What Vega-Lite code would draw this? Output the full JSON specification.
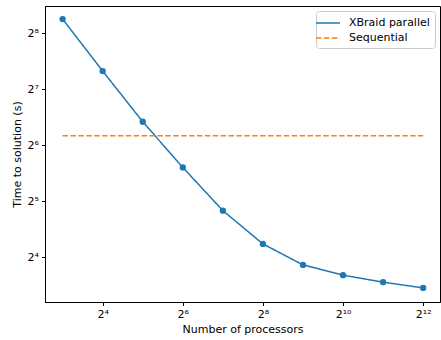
{
  "$schema": "https://vega.github.io/schema/vega-lite/v6.json",
  "width": 395,
  "height": 296,
  "autosize": {"type": "none"},
  "padding": {"left": 45, "top": 6, "right": 1, "bottom": 38},
  "background": "white",
  "config": {
    "font": "DejaVu Sans",
    "view": {"stroke": "black", "strokeWidth": 1},
    "axis": {
      "grid": false,
      "domainColor": "black",
      "tickColor": "black",
      "tickSize": 3.5,
      "labelPadding": 3,
      "labelFontSize": 11,
      "labelColor": "black",
      "titleFontSize": 11,
      "titleFontWeight": "normal",
      "titleColor": "black"
    },
    "legend": {
      "labelFontSize": 11,
      "labelColor": "black"
    }
  },
  "data": {
    "values": [
      {"p": 8, "t": 305.6, "series": "XBraid parallel"},
      {"p": 16, "t": 160.6, "series": "XBraid parallel"},
      {"p": 32, "t": 85.7, "series": "XBraid parallel"},
      {"p": 64, "t": 48.7, "series": "XBraid parallel"},
      {"p": 128, "t": 28.5, "series": "XBraid parallel"},
      {"p": 256, "t": 18.87, "series": "XBraid parallel"},
      {"p": 512, "t": 14.55, "series": "XBraid parallel"},
      {"p": 1024, "t": 12.81, "series": "XBraid parallel"},
      {"p": 2048, "t": 11.75, "series": "XBraid parallel"},
      {"p": 4096, "t": 10.94, "series": "XBraid parallel"},
      {"p": 8, "t": 72.1, "series": "Sequential"},
      {"p": 4096, "t": 72.1, "series": "Sequential"}
    ]
  },
  "encoding": {
    "x": {
      "field": "p",
      "type": "quantitative",
      "title": "Number of processors",
      "scale": {"type": "log", "base": 2, "domain": [5.9, 5480], "nice": false, "zero": false},
      "axis": {
        "values": [16, 64, 256, 1024, 4096],
        "labelExpr": "'2' + (round(log(datum.value)/LN2) < 10 ? ['⁰','¹','²','³','⁴','⁵','⁶','⁷','⁸','⁹'][round(log(datum.value)/LN2)] : ['⁰','¹','²','³','⁴','⁵','⁶','⁷','⁸','⁹'][floor(round(log(datum.value)/LN2)/10)] + ['⁰','¹','²','³','⁴','⁵','⁶','⁷','⁸','⁹'][round(log(datum.value)/LN2) % 10])",
        "titlePadding": 4
      }
    },
    "y": {
      "field": "t",
      "type": "quantitative",
      "title": "Time to solution (s)",
      "scale": {"type": "log", "base": 2, "domain": [9.19, 359.5], "nice": false, "zero": false},
      "axis": {
        "values": [16, 32, 64, 128, 256],
        "labelExpr": "'2' + ['⁰','¹','²','³','⁴','⁵','⁶','⁷','⁸','⁹'][round(log(datum.value)/LN2)]",
        "titlePadding": 5
      }
    }
  },
  "layer": [
    {
      "mark": {"type": "line", "strokeWidth": 1.5},
      "encoding": {
        "color": {
          "field": "series",
          "type": "nominal",
          "scale": {"domain": ["XBraid parallel", "Sequential"], "range": ["#1f77b4", "#ff7f0e"]},
          "legend": {
            "title": null,
            "orient": "none",
            "legendX": 271,
            "legendY": 5,
            "symbolType": "M-2,0H2",
            "symbolSize": 144,
            "symbolStrokeWidth": 1.5,
            "strokeColor": "#cccccc",
            "fillColor": "white",
            "cornerRadius": 3,
            "padding": 5,
            "labelOffset": 14,
            "rowPadding": 3
          }
        },
        "strokeDash": {
          "field": "series",
          "type": "nominal",
          "scale": {"domain": ["XBraid parallel", "Sequential"], "range": [[1, 0], [5.5, 2.4]]},
          "legend": {
            "title": null,
            "orient": "none",
            "legendX": 271,
            "legendY": 5,
            "symbolType": "M-2,0H2",
            "symbolSize": 144,
            "symbolStrokeWidth": 1.5,
            "strokeColor": "#cccccc",
            "fillColor": "white",
            "cornerRadius": 3,
            "padding": 5,
            "labelOffset": 14,
            "rowPadding": 3
          }
        }
      }
    },
    {
      "transform": [{"filter": "datum.series === 'XBraid parallel'"}],
      "mark": {"type": "circle", "size": 40, "opacity": 1, "color": "#1f77b4"}
    }
  ]
}
